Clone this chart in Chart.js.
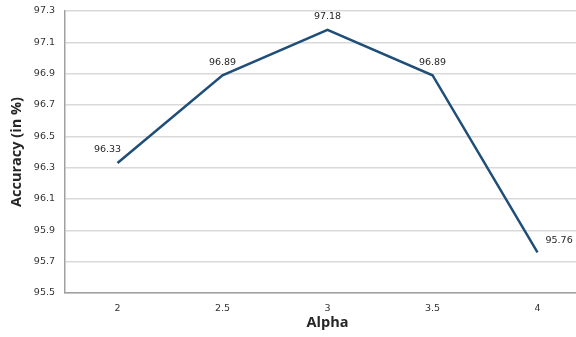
<!DOCTYPE html>
<html>
<head>
<meta charset="utf-8">
<script src="https://cdn.jsdelivr.net/npm/chart.js@4"></script>
<style>
  html, body { margin: 0; padding: 0; background: #fff; overflow: hidden; }
  #wrap { width: 590px; height: 337px; }
</style>
</head>
<body>
<div id="wrap"><canvas id="c" width="590" height="337"></canvas></div>
<script>
// Accuracy for each alpha setting
const alphaValues = ['2', '2.5', '3', '3.5', '4'];
const accuracy = [96.33, 96.89, 97.18, 96.89, 95.76];
const yMin = 95.5;
const yMax = 97.3;
const yStep = 0.2;

const tickFont = { family: 'DejaVu Sans, Verdana, sans-serif', size: 9.5 };
const titleFont = { family: 'Open Sans, sans-serif', size: 14.5, weight: 'bold' };

// Value labels: above each point, with the first nudged left and the last placed to the right
const valueLabels = {
  id: 'valueLabels',
  afterDatasetsDraw(chart) {
    const ctx = chart.ctx;
    const meta = chart.getDatasetMeta(0);
    const data = chart.data.datasets[0].data;
    ctx.save();
    ctx.font = '9.5px "DejaVu Sans", Verdana, sans-serif';
    ctx.fillStyle = '#262626';
    ctx.textBaseline = 'middle';
    meta.data.forEach((pt, i) => {
      const txt = data[i].toFixed(2);
      const last = i === data.length - 1;
      if (last) {
        ctx.textAlign = 'left';
        ctx.fillText(txt, pt.x + 8, pt.y - 12);
      } else {
        ctx.textAlign = 'center';
        const dx = i === 0 ? -10 : 0;
        ctx.fillText(txt, pt.x + dx, pt.y - 13);
      }
    });
    ctx.restore();
  }
};

new Chart(document.getElementById('c'), {
  type: 'line',
  data: {
    labels: alphaValues,
    datasets: [{
      data: accuracy,
      borderColor: '#1f4e79',
      borderWidth: 2.5,
      pointRadius: 0,
      tension: 0,
      fill: false
    }]
  },
  options: {
    responsive: false,
    animation: false,
    layout: { padding: { top: 11, right: 0, bottom: 0, left: 0 } },
    plugins: { legend: { display: false }, tooltip: { enabled: false } },
    scales: {
      x: {
        type: 'category',
        offset: true,
        grid: { display: false, drawTicks: false },
        border: { display: true, color: '#a0a0a0', width: 1.5 },
        ticks: { color: '#333333', font: tickFont, padding: 10, maxRotation: 0 },
        title: { display: true, text: 'Alpha', color: '#262626', font: titleFont, padding: { top: 0, bottom: 5.5 } },
        afterFit(scale) { scale.height = 44; scale.paddingLeft = 0; scale.paddingRight = 0; }
      },
      y: {
        min: yMin,
        max: yMax,
        ticks: {
          stepSize: yStep,
          color: '#333333',
          font: tickFont,
          padding: 10,
          callback: v => v.toFixed(1)
        },
        grid: { color: '#d9d9d9', lineWidth: 1.5, drawTicks: false },
        border: { display: true, color: '#a0a0a0', width: 1.5 },
        title: { display: true, text: 'Accuracy (in %)', color: '#262626', font: titleFont, padding: { top: 8.5, bottom: 0 } },
        afterFit(scale) { scale.width = 65; scale.paddingTop = 0; scale.paddingBottom = 0; }
      }
    }
  },
  plugins: [valueLabels]
});
</script>
</body>
</html>
